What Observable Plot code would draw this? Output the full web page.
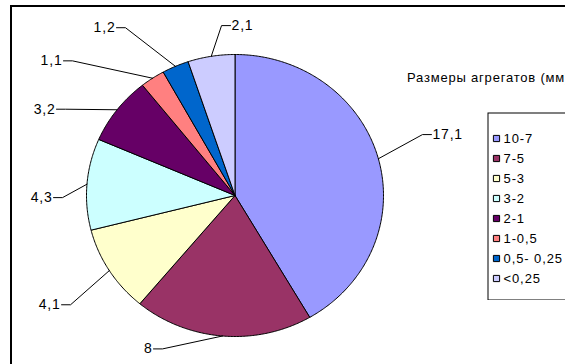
<!DOCTYPE html>
<html>
<head>
<meta charset="utf-8">
<script src="https://cdn.jsdelivr.net/npm/d3@7"></script>
<script src="https://cdn.jsdelivr.net/npm/@observablehq/plot@0.6"></script>
<style>
  html, body { margin: 0; padding: 0; background: #fff; }
  #chart {
    position: relative; width: 565px; height: 364px; overflow: hidden; background: #fff;
    font-family: "Liberation Sans", Arial, sans-serif; color: #000;
  }
  #frame {
    position: absolute; left: 10px; top: 5px; width: 620px; height: 420px;
    border: 2px solid #000; box-sizing: border-box;
  }
  #title { position: absolute; left: 407px; top: 70px; font-size: 13px; letter-spacing: 0.8px; white-space: nowrap; }
  .layer { position: absolute; }
</style>
</head>
<body>
<div id="chart">
  <div id="frame"></div>
  <div id="title">Размеры агрегатов (мм)</div>
</div>
<script>
// Aggregate size fractions (mm) and their shares
const categories = ["10-7", "7-5", "5-3", "3-2", "2-1", "1-0,5", "0,5- 0,25", "<0,25"];
const values = [17.1, 8, 4.1, 4.3, 3.2, 1.1, 1.2, 2.1];
const colors = ["#9999FF", "#993366", "#FFFFCC", "#CCFFFF", "#660066", "#FF8080", "#0066CC", "#CCCCFF"];

// Where each value label sits, in pie-radius units (pie centre = 0,0)
const labelSpots = [
  [1.323, 0.432], [-0.549, -1.088], [-1.168, -0.775], [-1.222, -0.015],
  [-1.202, 0.612], [-1.155, 0.955], [-0.798, 1.19], [-0.030, 1.205]
];

const fmt = v => String(v).replace(".", ",");
const color = {domain: categories, range: colors};

// Slice outlines: centre -> arc -> centre
const arcs = d3.pie().sort(null).value(d => d)(values);
const slicePts = arcs.flatMap((a, i) => {
  const cat = categories[i];
  const n = Math.max(4, Math.ceil((a.endAngle - a.startAngle) / 0.01));
  const pts = [{cat, x: 0, y: 0}];
  for (let k = 0; k <= n; ++k) {
    const t = a.startAngle + (a.endAngle - a.startAngle) * k / n;
    pts.push({cat, x: Math.sin(t), y: Math.cos(t)});
  }
  pts.push({cat, x: 0, y: 0});
  return pts;
});

// Leader lines: slice edge -> elbow -> label
const elbow = 9 / 148.5;
const labels = arcs.map((a, i) => {
  const mid = (a.startAngle + a.endAngle) / 2;
  const px = Math.sin(mid), py = Math.cos(mid);
  const [lx, ly] = labelSpots[i];
  const left = lx < px;
  return {i, text: fmt(values[i]), px, py, lx, ly, left, ex: left ? lx + elbow : lx - elbow};
});
const leaderPts = labels.flatMap(d => [
  {i: d.i, x: d.px, y: d.py},
  {i: d.i, x: d.ex, y: d.ly},
  {i: d.i, x: d.lx, y: d.ly}
]);

const pie = Plot.plot({
  width: 565, height: 364, margin: 0,
  x: {domain: [-1, 1], range: [86, 383], axis: null},
  y: {domain: [-1, 1], range: [336, 54], axis: null},
  color,
  style: {fontFamily: "Liberation Sans, Arial, sans-serif", background: "transparent", overflow: "visible", letterSpacing: "0.8px"},
  marks: [
    Plot.line(slicePts, {x: "x", y: "y", z: "cat", fill: "cat", stroke: "#000", strokeWidth: 1, curve: "linear"}),
    Plot.line(leaderPts, {x: "x", y: "y", z: "i", stroke: "#000", strokeWidth: 1}),
    Plot.text(labels.filter(d => d.left), {x: "lx", y: "ly", text: "text", textAnchor: "end", dx: -1, fontSize: 14, fill: "#000"}),
    Plot.text(labels.filter(d => !d.left), {x: "lx", y: "ly", text: "text", textAnchor: "start", dx: 1, fontSize: 14, fill: "#000"})
  ]
});
pie.classList.add("layer");
pie.style.left = "0px";
pie.style.top = "0px";
document.getElementById("chart").appendChild(pie);

// Legend box
const legend = Plot.plot({
  width: 100, height: 188, margin: 0,
  x: {axis: null},
  y: {type: "point", domain: categories, range: [14, 178], axis: null},
  color,
  style: {fontFamily: "Liberation Sans, Arial, sans-serif", background: "#fff", letterSpacing: "0.9px"},
  marks: [
    Plot.frame({stroke: "#000", strokeWidth: 1, inset: 0.5}),
    Plot.dot(categories, {y: d => d, frameAnchor: "left", dx: 9, symbol: "square", r: 3.5, fill: d => d, stroke: "#000", strokeWidth: 1}),
    Plot.text(categories, {y: d => d, text: d => d, frameAnchor: "left", dx: 16, textAnchor: "start", fontSize: 13, fill: "#000"})
  ]
});
legend.classList.add("layer");
legend.style.left = "487px";
legend.style.top = "112px";
document.getElementById("chart").appendChild(legend);
</script>
</body>
</html>
